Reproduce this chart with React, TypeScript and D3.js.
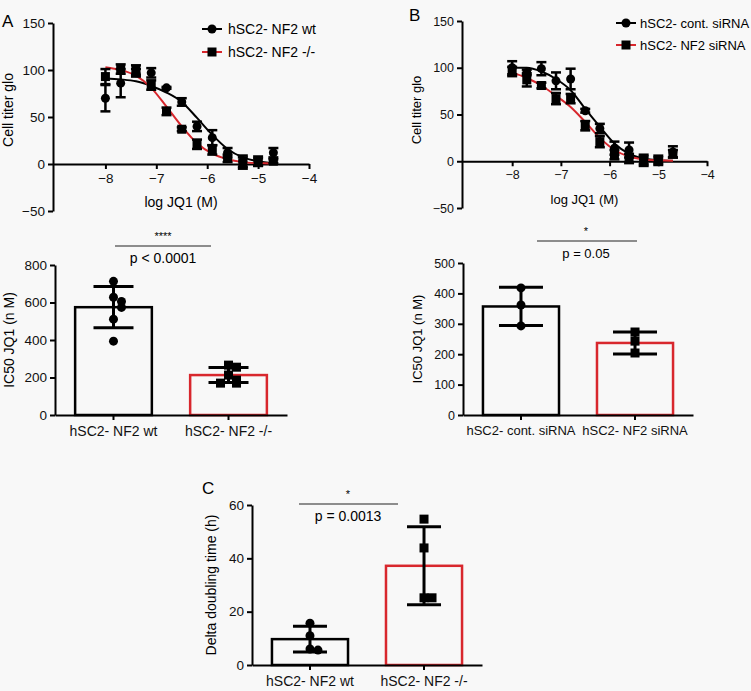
import React, { useRef, useEffect } from "react";
import * as d3 from "d3";

// dose-response data (log M)
const doseX = [-8, -7.7, -7.4, -7.1, -6.8, -6.5, -6.2, -5.9, -5.6, -5.3, -5.0, -4.7];

const aWtMean = [70, 86, 97, 97, 81, 66, 40, 28, 12, 3, 3, 12];
const aWtSd = [14, 15, 4, 5, 1, 4, 5, 8, 5, 6, 5, 5];
const aKoMean = [93, 101, 100, 84, 56, 37, 21, 15, 6, 1, 2, 3];
const aKoSd = [8, 5, 5, 5, 4, 2, 5, 5, 4, 6, 4, 2];
const aWtFit = [91, 90, 88, 83, 76, 66, 49, 31, 16, 7, 3, 1];
const aKoFit = [103, 100, 94, 81, 61, 40, 22, 11, 5, 2, 1, 0.5];

const bCtrlMean = [100, 95, 99, 86, 88, 54, 35, 14, 12, 2, 2, 10];
const bCtrlSd = [7, 3, 7, 9, 11, 2, 5, 7, 8, 5, 4, 6];
const bSiMean = [96, 87, 81, 67, 67, 38, 21, 7, 3, 0, 0, 8];
const bSiSd = [5, 7, 3, 6, 5, 5, 6, 5, 5, 5, 4, 4];
const bCtrlFit = [100, 100, 96, 88, 76, 56, 37, 19, 8, 3, 1, 0.5];
const bSiFit = [95, 89, 81, 70, 58, 42, 25, 12, 5, 2, 1, 0.5];

const doseTicks = [-8, -7, -6, -5, -4];
const glowTicks = [-50, 0, 50, 100, 150];

// IC50 bars
const aBarCats = ["hSC2- NF2 wt", "hSC2- NF2 -/-"];
const aBarMean = [575, 213];
const aBarSd = [110, 40];
const aWtIc50 = [713, 628, 606, 574, 511, 394];
const aKoIc50 = [266, 255, 213, 186, 170, 170];

const bBarCats = ["hSC2- cont. siRNA", "hSC2- NF2 siRNA"];
const bBarMean = [357, 237];
const bBarSd = [63, 36];
const bCtrlIc50 = [418, 362, 293];
const bSiIc50 = [273, 243, 204];

// doubling time
const cBarCats = ["hSC2- NF2 wt", "hSC2- NF2 -/-"];
const cBarMean = [9.7, 37.2];
const cBarSd = [4.8, 14.6];
const cWtDelta = [15.7, 11, 6, 5.6];
const cKoDelta = [54.7, 43.9, 25.2, 25.2];

const RED = "#d8272d";
const FONT = "Liberation Sans, Arial, Helvetica, sans-serif";

function styleAxis(g, fs) {
  g.selectAll("path").attr("stroke", "#000").attr("stroke-width", 2);
  g.selectAll("line").attr("stroke", "#000").attr("stroke-width", 2);
  g.selectAll("text").attr("font-family", FONT).attr("font-size", fs).attr("fill", "#111");
}

function marker(g, shape, x, y) {
  if (shape === "circle") {
    g.append("circle").attr("cx", x).attr("cy", y).attr("r", 4.5).attr("fill", "#000");
  } else {
    g.append("rect").attr("x", x - 4.5).attr("y", y - 4.5).attr("width", 9).attr("height", 9).attr("fill", "#000");
  }
}

function dosePanel(svg, o) {
  const x = d3.scaleLinear().domain([-9.03, -4]).range(o.xr);
  const y = d3.scaleLinear().domain([-50, 150]).range(o.yr);
  const g = svg.append("g");

  g.append("g")
    .attr("transform", `translate(0,${y(0)})`)
    .call(d3.axisBottom(x).tickValues(doseTicks).tickFormat(d3.format("d")).tickSize(5).tickSizeOuter(0).tickPadding(4))
    .call(styleAxis, o.fs - 0.5);
  g.append("g")
    .attr("transform", `translate(${o.xr[0]},0)`)
    .call(d3.axisLeft(y).tickValues(glowTicks).tickSize(5).tickSizeOuter(0).tickPadding(3))
    .call(styleAxis, o.fs - 0.5);

  const line = d3.line().x((d, i) => x(doseX[i])).y((d) => y(d)).curve(d3.curveMonotoneX);
  o.series.forEach((s) => {
    g.append("path").datum(s.fit).attr("fill", "none").attr("stroke", s.color).attr("stroke-width", 2).attr("d", line);
  });
  o.series.forEach((s) => {
    s.mean.forEach((m, i) => {
      const cx = x(doseX[i]);
      const lo = y(m - s.sd[i]);
      const hi = y(m + s.sd[i]);
      g.append("line").attr("x1", cx).attr("x2", cx).attr("y1", lo).attr("y2", hi).attr("stroke", "#000").attr("stroke-width", 2.5);
      [lo, hi].forEach((yy) =>
        g.append("line").attr("x1", cx - 5).attr("x2", cx + 5).attr("y1", yy).attr("y2", yy).attr("stroke", "#000").attr("stroke-width", 2.5)
      );
      marker(g, s.shape, cx, y(m));
    });
  });

  // legend
  o.series.forEach((s, i) => {
    const ly = o.legend[1] + i * o.legend[3];
    g.append("line").attr("x1", o.legend[0]).attr("x2", o.legend[0] + 20).attr("y1", ly).attr("y2", ly).attr("stroke", s.color).attr("stroke-width", 2);
    marker(g, s.shape, o.legend[0] + 10, ly);
    g.append("text").attr("x", o.legend[2]).attr("y", ly + 5).attr("font-family", FONT).attr("font-size", o.fs).text(s.name);
  });

  g.append("text")
    .attr("x", (o.xr[0] + o.xr[1]) / 2)
    .attr("y", o.yr[0] - 4)
    .attr("text-anchor", "middle")
    .attr("font-family", FONT)
    .attr("font-size", o.fs)
    .text("log JQ1 (M)");
  g.append("text")
    .attr("transform", `translate(${o.ylabX},110) rotate(-90)`)
    .attr("text-anchor", "middle")
    .attr("font-family", FONT)
    .attr("font-size", o.fs)
    .text("Cell titer glo");
}

function barPanel(svg, o) {
  const x = d3.scaleBand().domain(o.cats).range(o.xr).paddingInner(0.333).paddingOuter(0.175);
  const y = d3.scaleLinear().domain(o.ydom).range(o.yr);
  const g = svg.append("g");

  o.cats.forEach((c, i) => {
    g.append("rect")
      .attr("x", x(c))
      .attr("y", y(o.mean[i]))
      .attr("width", x.bandwidth())
      .attr("height", y(0) - y(o.mean[i]))
      .attr("fill", "none")
      .attr("stroke", i === 0 ? "#000" : RED)
      .attr("stroke-width", 2.5);
  });

  g.append("g")
    .attr("transform", `translate(0,${o.yr[0]})`)
    .call(d3.axisBottom(x).tickSize(5).tickSizeOuter(0).tickPadding(6))
    .call(styleAxis, o.fs);
  g.append("g")
    .attr("transform", `translate(${o.xr[0]},0)`)
    .call(d3.axisLeft(y).tickValues(o.yticks).tickSize(5).tickSizeOuter(0).tickPadding(3))
    .call(styleAxis, o.fs - 0.5);

  o.cats.forEach((c, i) => {
    const cx = x(c) + x.bandwidth() / 2;
    const lo = y(o.mean[i] - o.sd[i]);
    const hi = y(o.mean[i] + o.sd[i]);
    g.append("line").attr("x1", cx).attr("x2", cx).attr("y1", lo).attr("y2", hi).attr("stroke", "#000").attr("stroke-width", 3);
    [lo, hi].forEach((yy) =>
      g.append("line").attr("x1", cx - o.cap).attr("x2", cx + o.cap).attr("y1", yy).attr("y2", yy).attr("stroke", "#000").attr("stroke-width", 3)
    );
    const placed = [];
    o.points[i].forEach((v) => {
      const py = y(v);
      const k = placed.filter((p) => Math.abs(p - py) < 7).length;
      placed.push(py);
      const dx = k === 0 ? 0 : (k % 2 ? 1 : -1) * Math.ceil(k / 2) * 8;
      marker(g, i === 0 ? "circle" : "square", cx + dx, py);
    });
  });

  // significance bracket
  const s = o.sig;
  g.append("text").attr("x", s.cx).attr("y", s.y - 6).attr("text-anchor", "middle").attr("font-family", FONT).attr("font-size", 11).text(s.stars);
  g.append("line").attr("x1", s.x1).attr("x2", s.x2).attr("y1", s.y).attr("y2", s.y).attr("stroke", "#222").attr("stroke-width", 1);
  g.append("text").attr("x", s.cx).attr("y", s.y + 17).attr("text-anchor", "middle").attr("font-family", FONT).attr("font-size", o.fs).text(s.label);

  g.append("text")
    .attr("transform", `translate(${o.ylabX},${(o.yr[0] + o.yr[1]) / 2}) rotate(-90)`)
    .attr("text-anchor", "middle")
    .attr("font-family", FONT)
    .attr("font-size", o.fs)
    .text(o.ylabel);
}

const App = () => {
  const svgRef = useRef(null);

  useEffect(() => {
    document.body.style.margin = "0";
    const svg = d3.select(svgRef.current);
    svg.selectAll("*").remove();
    svg.append("rect").attr("width", 751).attr("height", 691).attr("fill", "#f8f8f8");

    const panelLetter = (t, x, y) =>
      svg.append("text").attr("x", x).attr("y", y).attr("font-family", FONT).attr("font-size", 17).text(t);
    panelLetter("A", 2, 27);
    panelLetter("B", 409, 21);
    panelLetter("C", 202, 494);

    dosePanel(svg, {
      xr: [53, 309],
      yr: [211, 23],
      ylabX: 13,
      fs: 14,
      legend: [202, 29, 228, 23],
      series: [
        { name: "hSC2- NF2 wt", mean: aWtMean, sd: aWtSd, fit: aWtFit, color: "#000", shape: "circle" },
        { name: "hSC2- NF2 -/-", mean: aKoMean, sd: aKoSd, fit: aKoFit, color: RED, shape: "square" },
      ],
    });
    dosePanel(svg, {
      xr: [462, 707],
      yr: [208, 21],
      ylabX: 421,
      fs: 13,
      legend: [616, 23, 640, 22],
      series: [
        { name: "hSC2- cont. siRNA", mean: bCtrlMean, sd: bCtrlSd, fit: bCtrlFit, color: "#000", shape: "circle" },
        { name: "hSC2- NF2 siRNA", mean: bSiMean, sd: bSiSd, fit: bSiFit, color: RED, shape: "square" },
      ],
    });

    barPanel(svg, {
      cats: aBarCats,
      mean: aBarMean,
      sd: aBarSd,
      points: [aWtIc50, aKoIc50],
      xr: [55, 287],
      yr: [415, 265],
      ydom: [0, 800],
      yticks: [0, 200, 400, 600, 800],
      cap: 20,
      ylabX: 14,
      fs: 14,
      ylabel: "IC50 JQ1 (n M)",
      sig: { stars: "****", label: "p < 0.0001", x1: 115, x2: 211, y: 246, cx: 163 },
    });
    barPanel(svg, {
      cats: bBarCats,
      mean: bBarMean,
      sd: bBarSd,
      points: [bCtrlIc50, bSiIc50],
      xr: [463, 693],
      yr: [415, 263],
      ydom: [0, 500],
      yticks: [0, 100, 200, 300, 400, 500],
      cap: 22,
      ylabX: 422,
      fs: 13,
      ylabel: "IC50 JQ1 (n M)",
      sig: { stars: "*", label: "p = 0.05", x1: 537, x2: 637, y: 241, cx: 586 },
    });
    barPanel(svg, {
      cats: cBarCats,
      mean: cBarMean,
      sd: cBarSd,
      points: [cWtDelta, cKoDelta],
      xr: [252, 482],
      yr: [665, 505],
      ydom: [0, 60],
      yticks: [0, 20, 40, 60],
      cap: 17,
      ylabX: 216,
      fs: 14,
      ylabel: "Delta doubling time (h)",
      sig: { stars: "*", label: "p = 0.0013", x1: 299, x2: 398, y: 504, cx: 348 },
    });
  }, []);

  return <svg ref={svgRef} width={751} height={691} style={{ display: "block" }}></svg>;
};

export default App;
